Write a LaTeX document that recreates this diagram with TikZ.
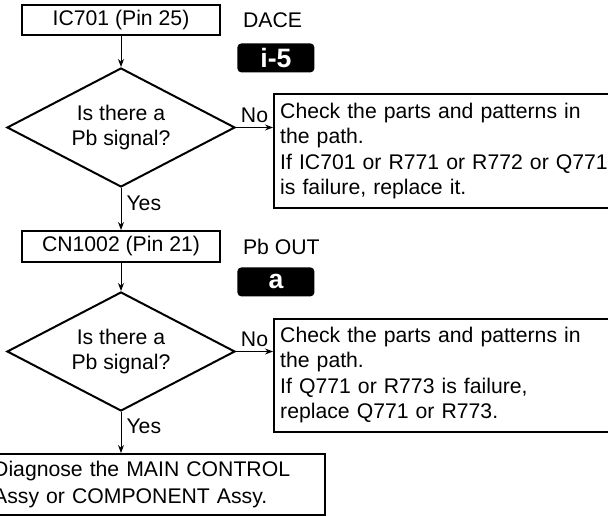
\documentclass[tikz,border=0pt]{standalone}
\usepackage{fontspec}
\setmainfont{Liberation Sans}
\usetikzlibrary{shapes.geometric, positioning, arrows.meta}

\begin{document}
\begin{tikzpicture}[
    font=\fontsize{10.6pt}{12.75pt}\selectfont,
    stepbox/.style={rectangle, draw, line width=1pt, minimum width=99pt, minimum height=15pt, inner sep=0pt},
    query/.style={diamond, aspect=2, draw, line width=1pt, minimum width=114pt, minimum height=59.5pt, inner sep=0pt, align=center},
    remedy/.style={rectangle, draw, line width=1.2pt, align=left, inner sep=3pt, anchor=north west},
    badge/.style={rectangle, rounded corners=2pt, fill=black, text=white, font=\fontsize{13.3pt}{14pt}\selectfont\bfseries, minimum width=38.5pt, minimum height=14.5pt, inner sep=0pt},
    flow/.style={-{Stealth[length=4pt, width=3pt]}, line width=0.5pt},
]
  \useasboundingbox (0,0) rectangle (304pt,-258.5pt);
  \clip (0,0) rectangle (304pt,-258.5pt);

  % first check
  \node[stepbox] (pin25) at (60.5pt,-10pt) {IC701 (Pin 25)};
  \node[right=7.5pt of pin25] (dace) {DACE};
  \node[badge, below right=3.5pt and 8pt of pin25.south east] (tagi) {i-5};
  \node[query, below=15.5pt of pin25] (sig1) {Is there a\\Pb signal?};
  \node[remedy, text width=166pt, minimum height=57pt] (fix1) at ([shift={(18.5pt,17.25pt)}]sig1.east)
    {Check the parts and patterns in\\the path.\\If IC701 or R771 or R772 or Q771\\is failure, replace it.};

  % second check
  \node[stepbox, minimum height=15.5pt, below=21pt of sig1] (pin21) {CN1002 (Pin 21)};
  \node[right=7.5pt of pin21] (pbout) {Pb OUT};
  \node[badge, below right=2pt and 8pt of pin21.south east] (taga) {a};
  \node[query, below=14pt of pin21] (sig2) {Is there a\\Pb signal?};
  \node[remedy, text width=166pt, minimum height=56.5pt] (fix2) at ([shift={(18.5pt,17pt)}]sig2.east)
    {Check the parts and patterns in\\the path.\\If Q771 or R773 is failure,\\replace Q771 or R773.};

  \node[remedy, font=\fontsize{10.6pt}{13.5pt}\selectfont, inner sep=3.5pt, text width=162.5pt, minimum height=30.5pt] (diag) at ([shift={(-68pt,-20.5pt)}]sig2.south)
    {Diagnose the MAIN CONTROL\\Assy or COMPONENT Assy.};

  \draw[flow] (pin25) -- (sig1);
  \draw[flow] (sig1.east) -- node[above, inner sep=2pt] {No} (sig1.east -| fix1.west);
  \draw[flow] (sig1) -- node[right, pos=0.36, inner sep=2.5pt] {Yes} (pin21);
  \draw[flow] (pin21) -- (sig2);
  \draw[flow] (sig2.east) -- node[above, inner sep=2pt] {No} (sig2.east -| fix2.west);
  \draw[flow] (sig2.south) -- node[right, pos=0.36, inner sep=2.5pt] {Yes} (sig2.south |- diag.north);
\end{tikzpicture}
\end{document}
